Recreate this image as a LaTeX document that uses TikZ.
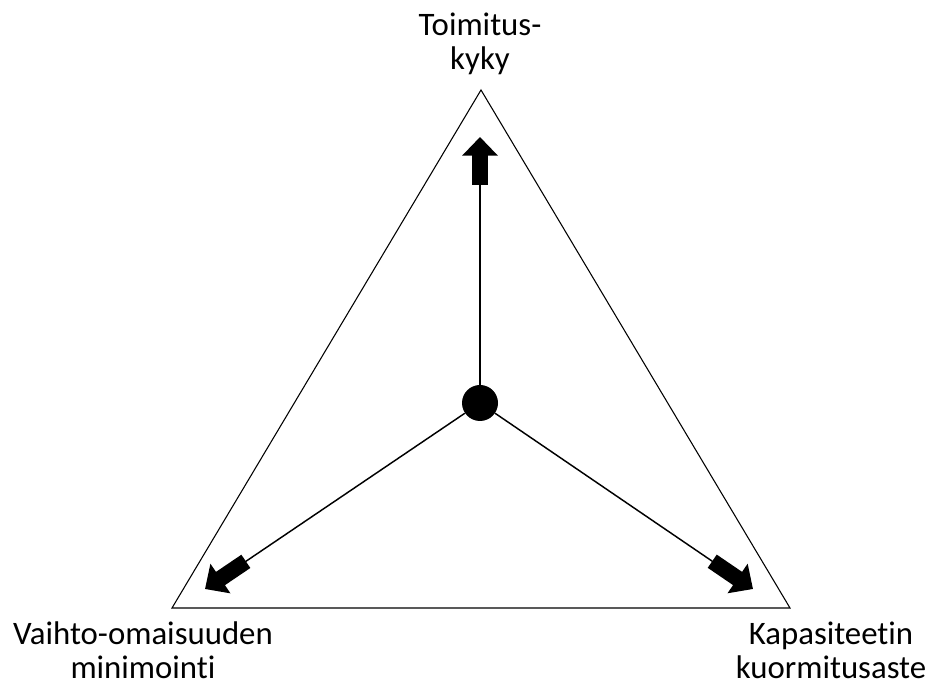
\documentclass[tikz,border=0pt]{standalone}
\usepackage{fontspec}
\setmainfont[Ligatures=NoCommon]{Carlito}
\usetikzlibrary{arrows.meta,calc}

\begin{document}
\begin{tikzpicture}[x=0.75pt, y=0.75pt,
    every node/.style={font=\fontsize{24.6}{25.5}\selectfont, align=center},
    frame/.style={line width=0.8pt},
    spoke/.style={line width=1.1pt},
    blockarrow/.style={line width=12pt, -{Triangle[width=26pt, length=14pt]}}]

  \useasboundingbox (0,0) rectangle (925,685);

  % ---- Triangle ----
  \coordinate (apex) at (481,595);
  \coordinate (cornerL) at (172,77);
  \coordinate (cornerR) at (790,77);
  \draw[frame] (apex) -- (cornerL) -- (cornerR) -- cycle;

  % ---- Hub ----
  \node[circle, fill=black, minimum size=27pt, inner sep=0pt] (hub) at (480,282) {};

  % ---- Arrow tips and shaft bases ----
  \coordinate (uptip) at (480,548);
  \coordinate (upbase) at (480,500);
  \coordinate (lefttip) at (205,96);
  \coordinate (leftbase) at ($(lefttip)!37pt!(hub)$);
  \coordinate (righttip) at (753,96);
  \coordinate (rightbase) at ($(righttip)!37pt!(hub)$);

  % ---- Spokes ----
  \draw[spoke] (hub) -- (upbase);
  \draw[spoke] (hub) -- (leftbase);
  \draw[spoke] (hub) -- (rightbase);

  % ---- Block arrows ----
  \draw[blockarrow] (upbase) -- (uptip);
  \draw[blockarrow] (leftbase) -- (lefttip);
  \draw[blockarrow] (rightbase) -- (righttip);

  % ---- Labels ----
  \node (toimitus) at (480,641) {Toimitus-\\kyky};
  \node (vaihto) at (143,35) {Vaihto-omaisuuden\\minimointi};
  \node (kapasiteetti) at (831,35) {Kapasiteetin\\kuormitusaste};

\end{tikzpicture}
\end{document}
